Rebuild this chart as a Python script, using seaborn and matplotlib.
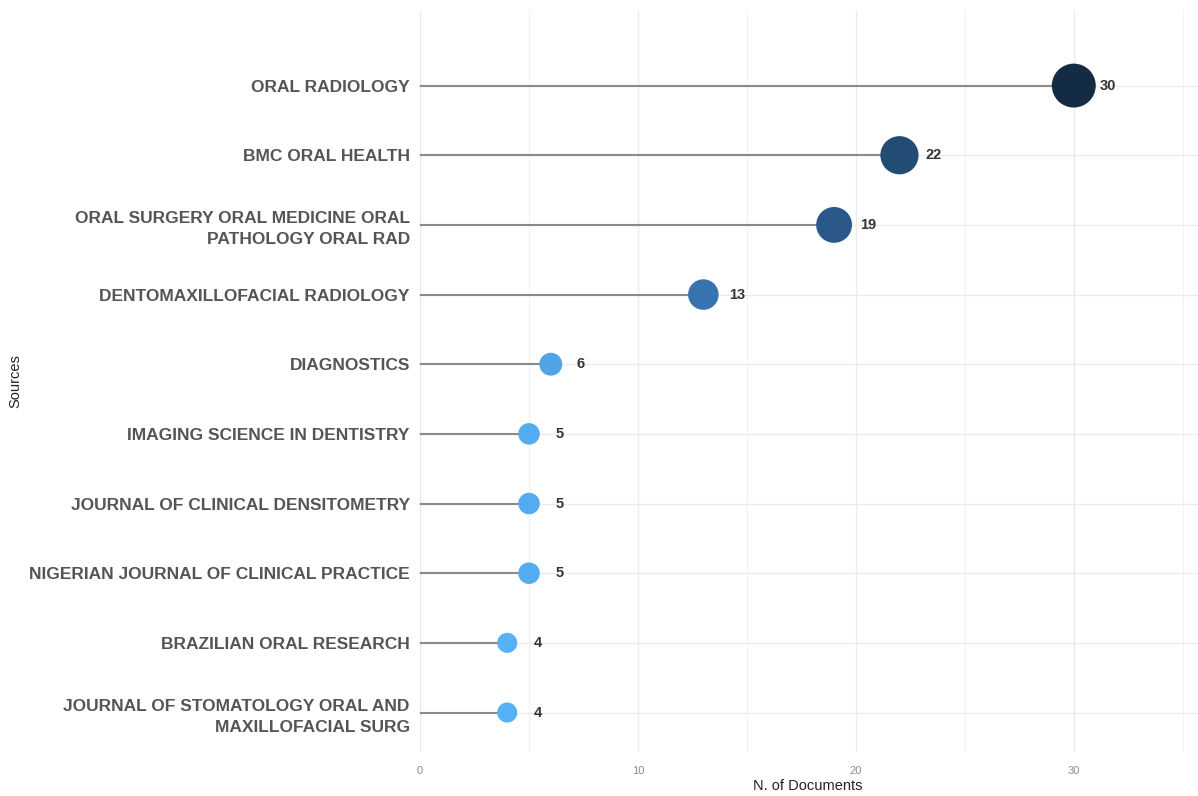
import pandas as pd
import matplotlib.pyplot as plt
from matplotlib.colors import LinearSegmentedColormap
from matplotlib.ticker import MultipleLocator
import seaborn as sns

sources = [
    "ORAL RADIOLOGY",
    "BMC ORAL HEALTH",
    "ORAL SURGERY ORAL MEDICINE ORAL\nPATHOLOGY ORAL RAD",
    "DENTOMAXILLOFACIAL RADIOLOGY",
    "DIAGNOSTICS",
    "IMAGING SCIENCE IN DENTISTRY",
    "JOURNAL OF CLINICAL DENSITOMETRY",
    "NIGERIAN JOURNAL OF CLINICAL PRACTICE",
    "BRAZILIAN ORAL RESEARCH",
    "JOURNAL OF STOMATOLOGY ORAL AND\nMAXILLOFACIAL SURG",
]
n_docs = [30, 22, 19, 13, 6, 5, 5, 5, 4, 4]


def main():
    df = pd.DataFrame({"source": sources, "docs": n_docs})

    sns.set_theme(style="whitegrid")
    plt.rcParams["font.family"] = ["Liberation Sans", "DejaVu Sans"]

    fig = plt.figure(figsize=(11.98, 7.96), dpi=100)
    ax = fig.add_axes([0.349, 0.055, 0.651, 0.932])

    # ggplot-like gradient: light blue for low counts, navy for high
    cmap = LinearSegmentedColormap.from_list(
        "docs", [(0.0, "#56B1F7"), (0.35, "#3672AE"), (1.0, "#132B43")])

    ax.hlines(df["source"], 0, df["docs"], color="#8a8a8a", linewidth=1.5, zorder=2)
    sns.scatterplot(data=df, x="docs", y="source", hue="docs", size="docs",
                    palette=cmap, hue_norm=(4, 30), sizes=(210, 1000),
                    size_norm=(4, 30), linewidth=0, legend=False, ax=ax, zorder=3)

    for i, row in df.iterrows():
        ax.text(row["docs"] + 1.2, i, str(row["docs"]), va="center", ha="left",
                fontsize=10.5, fontweight="bold", color="#333333")

    ax.set_xlim(-0.09, 35.7)
    ax.set_ylim(len(df) - 1 + 0.57, -1.08)
    ax.xaxis.set_major_locator(MultipleLocator(10))
    ax.xaxis.set_minor_locator(MultipleLocator(5))
    ax.grid(which="major", color="#ebebeb", linewidth=1.0)
    ax.grid(which="minor", axis="x", color="#f2f2f2", linewidth=0.8)
    ax.set_facecolor("white")
    for s in ax.spines.values():
        s.set_visible(False)

    ax.tick_params(axis="x", which="both", length=0, labelsize=8, labelcolor="#8c8c8c", pad=10)
    ax.tick_params(axis="y", length=0, pad=6)
    for lbl in ax.get_yticklabels():
        lbl.set_fontsize(12.5)
        lbl.set_fontweight("bold")
        lbl.set_color("#555555")
        lbl.set_horizontalalignment("right")
        lbl.set_multialignment("right")
        lbl.set_linespacing(1.5)

    ax.set_xlabel("N. of Documents", fontsize=10.5, color="#222222", labelpad=2)
    ax.set_ylabel("")
    fig.text(15 / 1198, 1 - 381 / 796, "Sources", rotation=90, fontsize=10.5,
             color="#222222", ha="center", va="center")

    fig.savefig("out.png", dpi=100, facecolor="white")


if __name__ == "__main__":
    main()
